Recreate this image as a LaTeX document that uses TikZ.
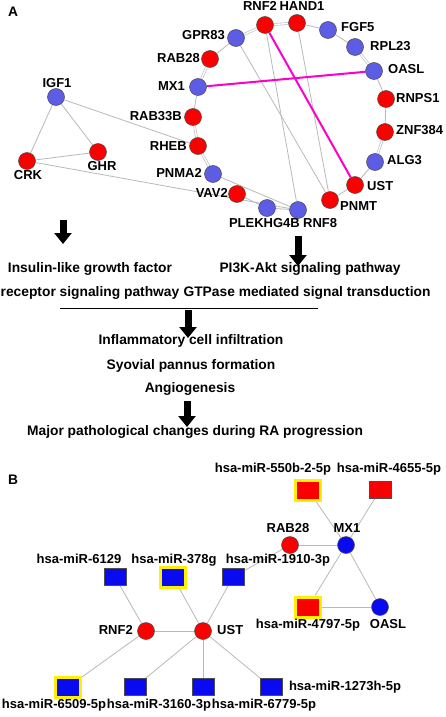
\documentclass[tikz,border=0pt]{standalone}
\usepackage{fontspec}
\setmainfont{Liberation Sans}
\usetikzlibrary{arrows.meta,backgrounds}
\definecolor{nred}{RGB}{250,0,0}
\definecolor{nblueA}{RGB}{92,92,228}
\definecolor{nblueB}{RGB}{10,10,240}
\definecolor{edgegray}{RGB}{185,185,185}
\definecolor{hlpink}{RGB}{255,0,200}
\definecolor{hlyellow}{RGB}{255,240,0}
\begin{document}
\begin{tikzpicture}[x=1pt,y=-1pt,
  every node/.style={font=\bfseries\fontsize{13}{15}\selectfont},
  cnode/.style={circle,minimum size=17pt,inner sep=0pt,draw=black!70,line width=0.5pt},
  rednode/.style={cnode,fill=nred},
  blueA/.style={cnode,fill=nblueA},
  blueB/.style={cnode,fill=nblueB},
  sqnode/.style={rectangle,minimum width=22pt,minimum height=17pt,inner sep=0pt,draw=black!70,line width=0.5pt},
  sqred/.style={sqnode,fill=nred},
  sqblue/.style={sqnode,fill=nblueB},
  ysq/.style={draw=hlyellow,line width=3pt,minimum width=25pt,minimum height=20pt},
  lbl/.style={inner sep=0pt},
  txt/.style={inner sep=0pt,font=\bfseries\fontsize{13.8}{16}\selectfont},
  edge/.style={draw=edgegray,line width=0.8pt},
  dedge/.style={draw=edgegray,line width=0.6pt,double=white,double distance=1.4pt},
  pinkedge/.style={draw=hlpink,line width=2pt},
  bigarrow/.style={line width=7pt,-{Triangle[width=17pt,length=11pt]}}
]
\useasboundingbox (0,0) rectangle (445,717);
\begin{scope}[on background layer]
\fill[white] (0,0) rectangle (445,717);
\end{scope}

% ---------- Panel A ----------
\node[txt,anchor=mid] (labA) at (13,14) {A};
\node[rednode] (RNF2) at (265,25) {};
\node[rednode] (HAND1) at (297,23) {};
\node[blueA] (FGF5) at (328,30) {};
\node[blueA] (RPL23) at (355,47) {};
\node[blueA] (OASL) at (374,71) {};
\node[rednode] (RNPS1) at (386,99) {};
\node[rednode] (ZNF384) at (385,132) {};
\node[blueA] (ALG3) at (375,162) {};
\node[rednode] (UST) at (355,185) {};
\node[rednode] (PNMT) at (330,200) {};
\node[blueA] (RNF8) at (298,210) {};
\node[blueA] (PLEKHG4B) at (267,208) {};
\node[rednode] (VAV2) at (237,194) {};
\node[blueA] (PNMA2) at (213,174) {};
\node[rednode] (RHEB) at (198,146) {};
\node[rednode] (RAB33B) at (193,117) {};
\node[blueA] (MX1) at (198,87) {};
\node[rednode] (RAB28) at (210,59) {};
\node[blueA] (GPR83) at (236,38) {};
\node[blueA] (IGF1) at (56,97) {};
\node[rednode] (GHR) at (98,152) {};
\node[rednode] (CRK) at (27,161) {};

\node[lbl,anchor=mid] (tRNF2) at (260,8) {RNF2};
\node[lbl,anchor=mid] (tHAND1) at (302,8) {HAND1};
\node[lbl,anchor=mid east] (tGPR83) at (225,37) {GPR83};
\node[lbl,anchor=mid west] (tFGF5) at (341,29) {FGF5};
\node[lbl,anchor=mid west] (tRPL23) at (370,48) {RPL23};
\node[lbl,anchor=mid west] (tOASL) at (388,71) {OASL};
\node[lbl,anchor=mid west] (tRNPS1) at (396,100) {RNPS1};
\node[lbl,anchor=mid west] (tZNF384) at (396,132) {ZNF384};
\node[lbl,anchor=mid west] (tALG3) at (387,162) {ALG3};
\node[lbl,anchor=mid west] (tUST) at (367,188) {UST};
\node[lbl,anchor=mid west] (tPNMT) at (340,208) {PNMT};
\node[lbl,anchor=mid west] (tRNF8) at (303,225) {RNF8};
\node[lbl,anchor=mid east] (tPLEKHG4B) at (300,225) {PLEKHG4B};
\node[lbl,anchor=mid east] (tVAV2) at (228,195) {VAV2};
\node[lbl,anchor=mid east] (tPNMA2) at (202,175) {PNMA2};
\node[lbl,anchor=mid east] (tRHEB) at (187,148) {RHEB};
\node[lbl,anchor=mid east] (tRAB33B) at (182,118) {RAB33B};
\node[lbl,anchor=mid east] (tMX1) at (185,88) {MX1};
\node[lbl,anchor=mid east] (tRAB28) at (200,60) {RAB28};
\node[lbl,anchor=mid] (tIGF1) at (57,85) {IGF1};
\node[lbl,anchor=mid] (tCRK) at (28,177) {CRK};
\node[lbl,anchor=mid] (tGHR) at (102,168) {GHR};

\begin{scope}[on background layer]
  \draw[dedge] (GPR83) -- (RNF2);
  \draw[dedge] (RNF2) -- (HAND1);
  \draw[edge] (HAND1) -- (FGF5);
  \draw[edge] (FGF5) -- (RPL23);
  \draw[dedge] (RPL23) -- (OASL);
  \draw[edge] (OASL) -- (RNPS1);
  \draw[edge] (RNPS1) -- (ZNF384);
  \draw[dedge] (ZNF384) -- (ALG3);
  \draw[edge] (ALG3) -- (UST);
  \draw[edge] (UST) -- (PNMT);
  \draw[edge] (PLEKHG4B) -- (RNF8);
  \draw[edge] (VAV2) -- (PLEKHG4B);
  \draw[edge] (PNMA2) -- (RNF8);
  \draw[edge] (CRK) -- (RNF8);
  \draw[dedge] (RHEB) -- (PNMA2);
  \draw[dedge] (RAB33B) -- (RHEB);
  \draw[edge] (MX1) -- (RAB33B);
  \draw[dedge] (RAB28) -- (MX1);
  \draw[edge] (GPR83) -- (RAB28);
  \draw[edge] (IGF1) -- (RHEB);
  \draw[edge] (IGF1) -- (CRK);
  \draw[edge] (IGF1) -- (GHR);
  \draw[edge] (CRK) -- (GHR);
  \draw[edge] (GPR83) -- (PNMT);
  \draw[edge] (RNF2) -- (RNF8);
  \draw[edge] (HAND1) -- (PNMT);
  \draw[pinkedge] (MX1) -- (OASL);
  \draw[pinkedge] (RNF2) -- (UST);
\end{scope}

% pathway text and arrows
\coordinate (a1s) at (63,220);
\coordinate (a1e) at (63,244);
\coordinate (a2s) at (298,236);
\coordinate (a2e) at (298,266);
\coordinate (a3s) at (188,310);
\coordinate (a3e) at (188,338);
\coordinate (a4s) at (187,401);
\coordinate (a4e) at (187,427);
\coordinate (ls) at (60,308);
\coordinate (le) at (318,308);

\node[txt,anchor=mid] (igf) at (90,270) {Insulin-like growth factor};
\node[txt,anchor=mid] (pi3k) at (310,270) {PI3K-Akt signaling pathway};
\node[txt,anchor=mid] (rec) at (90,294) {receptor signaling pathway};
\node[txt,anchor=mid] (gtp) at (307,294) {GTPase mediated signal transduction};
\node[txt,anchor=mid] (infl) at (191,342) {Inflammatory cell infiltration};
\node[txt,anchor=mid] (syov) at (191,367) {Syovial pannus formation};
\node[txt,anchor=mid] (angio) at (190,390) {Angiogenesis};
\node[txt,anchor=mid] (major) at (195,433) {Major pathological changes during RA progression};

\draw[line width=1pt] (ls) -- (le);
\draw[bigarrow] (a1s) -- (a1e);
\draw[bigarrow] (a2s) -- (a2e);
\draw[bigarrow] (a3s) -- (a3e);
\draw[bigarrow] (a4s) -- (a4e);

% ---------- Panel B ----------
\node[txt,anchor=mid] (labB) at (13,482) {B};
\node[sqred,ysq] (m550) at (308,490) {};
\node[sqred] (m4655) at (380,490) {};
\node[rednode] (bRAB28) at (290,545) {};
\node[blueB] (bMX1) at (346,545) {};
\node[sqblue] (m6129) at (115,577) {};
\node[sqblue,ysq] (m378) at (173,577) {};
\node[sqblue] (m1910) at (233,577) {};
\node[sqred,ysq] (m4797) at (308,607) {};
\node[blueB] (bOASL) at (380,607) {};
\node[rednode] (bRNF2) at (146,631) {};
\node[rednode] (bUST) at (203,631) {};
\node[sqblue,ysq] (m6509) at (68,687) {};
\node[sqblue] (m3160) at (135,687) {};
\node[sqblue] (m6779) at (203,687) {};
\node[sqblue] (m1273) at (271,687) {};

\node[lbl,anchor=mid] (t550) at (273,470) {hsa-miR-550b-2-5p};
\node[lbl,anchor=mid] (t4655) at (389,470) {hsa-miR-4655-5p};
\node[lbl,anchor=mid] (tbRAB28) at (288,530) {RAB28};
\node[lbl,anchor=mid] (tbMX1) at (347,530) {MX1};
\node[lbl,anchor=mid] (t6129) at (79,561) {hsa-miR-6129};
\node[lbl,anchor=mid] (t378) at (174,561) {hsa-miR-378g};
\node[lbl,anchor=mid] (t1910) at (278,561) {hsa-miR-1910-3p};
\node[lbl,anchor=mid] (t4797) at (308,626) {hsa-miR-4797-5p};
\node[lbl,anchor=mid] (tbOASL) at (388,626) {OASL};
\node[lbl,anchor=mid east] (tbRNF2) at (133,632) {RNF2};
\node[lbl,anchor=mid west] (tbUST) at (217,632) {UST};
\node[lbl,anchor=mid] (t6509) at (54,706) {hsa-miR-6509-5p};
\node[lbl,anchor=mid] (t3160) at (159,706) {hsa-miR-3160-3p};
\node[lbl,anchor=mid] (t6779) at (264,706) {hsa-miR-6779-5p};
\node[lbl,anchor=mid] (t1273) at (345,688) {hsa-miR-1273h-5p};

\begin{scope}[on background layer]
  \draw[edge] (m550) -- (bMX1);
  \draw[edge] (m4655) -- (bMX1);
  \draw[edge] (bRAB28) -- (bMX1);
  \draw[edge] (bRAB28) -- (m1910);
  \draw[edge] (bMX1) -- (m4797);
  \draw[edge] (bMX1) -- (bOASL);
  \draw[edge] (m4797) -- (bOASL);
  \draw[edge] (m6129) -- (bRNF2);
  \draw[edge] (bRNF2) -- (bUST);
  \draw[edge] (m378) -- (bUST);
  \draw[edge] (m1910) -- (bUST);
  \draw[edge] (bRNF2) -- (m6509);
  \draw[edge] (bUST) -- (m3160);
  \draw[edge] (bUST) -- (m6779);
  \draw[edge] (bUST) -- (m1273);
\end{scope}
\end{tikzpicture}
\end{document}
